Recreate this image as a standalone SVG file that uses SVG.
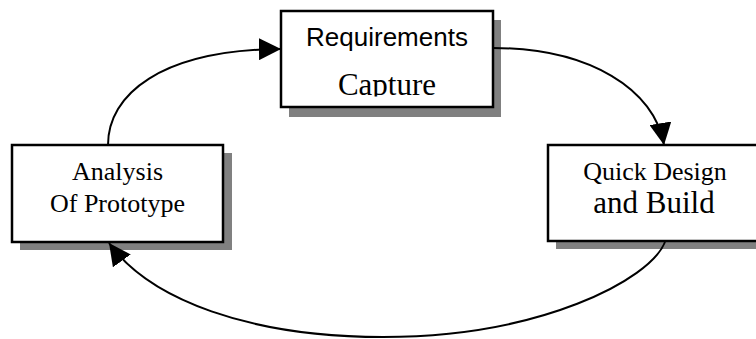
<svg xmlns="http://www.w3.org/2000/svg" width="756" height="339" viewBox="0 0 756 339">
<style>
.shadow{fill:#808080;stroke:none}
.box{fill:#fff;stroke:#000;stroke-width:2.5}
.sans{font-family:"Liberation Sans",Arial,sans-serif;fill:#000}
.serif{font-family:"Liberation Serif","Times New Roman",serif;fill:#000}
.conn{fill:none;stroke:#000;stroke-width:2;marker-end:url(#arrow)}
</style>
<defs>
<marker id="arrow" markerUnits="userSpaceOnUse" viewBox="0 0 22 22" refX="22" refY="11" markerWidth="22" markerHeight="22" orient="auto">
<path d="M0,0 L22,11 L0,22 z" fill="#000"/>
</marker>
<clipPath id="reqclip"><rect x="281" y="11" width="212" height="85.5"/></clipPath>
</defs>
<rect width="756" height="339" fill="#fff"/>
<g id="requirements">
<rect class="shadow" x="289" y="20" width="212" height="97"/>
<rect class="box" x="281" y="11" width="212" height="96"/>
<g clip-path="url(#reqclip)">
<text class="sans" x="387" y="46" font-size="26" text-anchor="middle">Requirements</text>
<text class="serif" x="387" y="95" font-size="31" text-anchor="middle">Capture</text>
</g>
</g>
<g id="analysis">
<rect class="shadow" x="20" y="153" width="212" height="97"/>
<rect class="box" x="12" y="145" width="211" height="97"/>
<text class="serif" x="117.5" y="180" font-size="26" text-anchor="middle">Analysis</text>
<text class="serif" x="117.5" y="212" font-size="26" text-anchor="middle">Of Prototype</text>
</g>
<g id="quickdesign">
<rect class="shadow" x="556" y="153" width="230" height="96"/>
<rect class="box" x="548" y="145" width="230" height="96"/>
<text class="serif" x="655" y="180" font-size="26" text-anchor="middle">Quick Design</text>
<text class="serif" x="654" y="213" font-size="31" text-anchor="middle">and Build</text>
</g>
<g id="connectors">
<path class="conn" d="M108,145 C108,95 160,50 281,49"/>
<path class="conn" d="M493,48 C590,48 655,90 664,145"/>
<path class="conn" d="M665,242 C650,280 540,337 383,337 C250,337 150,300 109,243"/>
</g>
</svg>
